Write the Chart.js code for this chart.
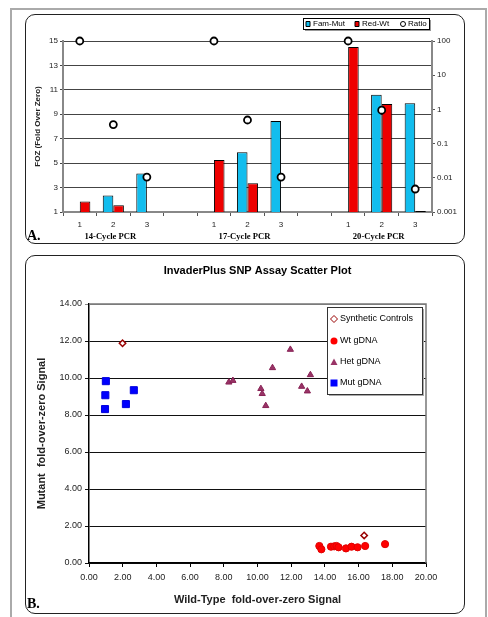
<!DOCTYPE html>
<html>
<head>
<meta charset="utf-8">
<script src="https://cdn.jsdelivr.net/npm/chart.js@4"></script>
<style>
body{margin:0;background:#fff;width:488px;height:617px;overflow:hidden;position:relative}
.outer{position:absolute;left:10px;top:8px;width:473px;height:640px;border:2px solid #aaa;border-bottom:none}
.panel{position:absolute;left:25px;width:438px;border:1.5px solid #222;border-radius:10px;background:#fff}
#pa{top:14px;height:228px}
#pb{top:255px;height:357px}
canvas{position:absolute}
#ca{left:25px;top:14px}
#cb{left:25px;top:256px}
</style>
</head>
<body>
<div class="outer"></div>
<div class="panel" id="pa"></div>
<div class="panel" id="pb"></div>
<canvas id="ca" width="440" height="230"></canvas>
<canvas id="cb" width="440" height="358"></canvas>
<script>
// panel A: FOZ by PCR cycle
let cycleLabels = ["1","2","3","","1","2","3","","1","2","3"]
let groupNames = ["14-Cycle PCR","17-Cycle PCR","20-Cycle PCR"]
let groupIndex = [1,5,9]
let famMut = [null,2.35,4.15,null,null,5.9,8.45,null,null,10.6,9.9]
let redWt = [1.85,1.55,null,null,5.25,3.35,null,null,14.5,9.85,1.08]
let ratio = [100,0.36,0.0105,null,100,0.49,0.0105,null,100,0.95,0.0047]
let leftTicks = [1,3,5,7,9,11,13,15]
let rightTicks = [0.001,0.01,0.1,1,10,100]

// panel B: scatter
let titleB = "InvaderPlus SNP Assay Scatter Plot"
let synX = [1.99,16.33]
let synY = [11.88,1.49]
let wtX = [13.67,13.79,14.36,14.55,14.69,14.81,15.25,15.58,15.94,16.39,17.57]
let wtY = [0.92,0.74,0.88,0.9,0.92,0.85,0.79,0.88,0.85,0.92,1.02]
let hetX = [8.30,8.54,11.95,10.89,13.14,10.20,10.28,12.62,12.96,10.49]
let hetY = [9.77,9.86,11.54,10.55,10.17,9.42,9.15,9.54,9.29,8.50]
let mutX = [1.0,0.97,0.95,2.19,2.66]
let mutY = [9.83,9.07,8.32,8.59,9.34]

Chart.defaults.font.family = 'Arial, "Liberation Sans", sans-serif'
Chart.defaults.color = '#222'
Chart.defaults.animation = false

function pts(xs, ys){
return xs.map((x,i)=>({x:x,y:ys[i]}))
}

function marker(c, style, x, y, fill, stroke){
c.fillStyle = fill
c.strokeStyle = stroke
c.lineWidth = 1
c.beginPath()
if(style=="rect"){ c.rect(x-3.5,y-3.5,7,7) }
if(style=="bar"){ c.rect(x-2,y-2.5,4,5) }
if(style=="circle"){ c.arc(x,y,3.5,0,Math.PI*2) }
if(style=="small"){ c.arc(x,y,2.5,0,Math.PI*2) }
if(style=="triangle"){ c.moveTo(x,y-3.5); c.lineTo(x+3.5,y+3); c.lineTo(x-3.5,y+3); c.closePath() }
if(style=="rectRot"){ c.moveTo(x,y-3.5); c.lineTo(x+3.5,y); c.lineTo(x,y+3.5); c.lineTo(x-3.5,y); c.closePath() }
c.fill()
if(stroke) c.stroke()
}

let textsA = {
id:"textsA",
afterDraw(chart){
let c = chart.ctx
c.save()
c.fillStyle = "#000"
c.font = 'bold 8.6px "Liberation Serif", "Times New Roman", serif'
c.textAlign = "center"
c.textBaseline = "middle"
groupNames.forEach((g,i)=>{
c.fillText(g, chart.scales.x.getPixelForValue(groupIndex[i]) - 3, 223)
})
c.font = 'bold 14px "Liberation Serif", "Times New Roman", serif'
c.textAlign = "left"
c.textBaseline = "alphabetic"
c.fillText("A.", 2, 226)
// legend
c.fillStyle = "#999"
c.fillRect(280,6,126,11)
c.fillStyle = "#fff"
c.fillRect(278,4,126,11)
c.strokeStyle = "#000"
c.lineWidth = 1
c.strokeRect(278.5,4.5,126,11)
let xs = [283,332,378]
let ds = chart.data.datasets
c.font = "8px Arial, 'Liberation Sans', sans-serif"
c.textBaseline = "middle"
ds.forEach((d,i)=>{
if(d.type=="line") marker(c,"small",xs[i],10,"#fff","#000")
else marker(c,"bar",xs[i],10,d.backgroundColor,"#000")
c.fillStyle = "#000"
c.fillText(d.label, xs[i]+5, 10)
})
c.restore()
}
}

new Chart(document.getElementById("ca"),{
type:"bar",
data:{
labels:cycleLabels,
datasets:[
{label:"Fam-Mut",data:famMut,backgroundColor:"#12BDEE",borderColor:"#000",borderWidth:1,yAxisID:"y",order:2},
{label:"Red-Wt",data:redWt,backgroundColor:"#EE0000",borderColor:"#000",borderWidth:1,yAxisID:"y",order:2},
{type:"line",label:"Ratio",data:ratio,yAxisID:"yR",showLine:false,pointRadius:3.5,pointBackgroundColor:"#fff",pointBorderColor:"#000",pointBorderWidth:1.8,clip:false,order:0}
]
},
options:{
responsive:false,
layout:{padding:{top:27,left:0,right:0,bottom:0}},
plugins:{legend:{display:false},tooltip:{enabled:false}},
datasets:{bar:{barPercentage:1,categoryPercentage:0.63}},
scales:{
x:{
ticks:{font:{size:8},maxRotation:0,autoSkip:false,padding:4},
grid:{display:true,drawOnChartArea:false,offset:true,tickLength:4,color:"#555"},
border:{color:"#888",width:2},
afterFit:s=>{s.height=32}
},
y:{
min:1,max:15,
afterBuildTicks:s=>{s.ticks=leftTicks.map(v=>({value:v}))},
ticks:{font:{size:8},padding:2},
grid:{color:"#444",tickLength:3},
border:{color:"#888",width:2},
title:{display:true,text:"FOZ (Fold Over Zero)",font:{size:8,weight:"bold"},padding:{top:8.2}},
afterFit:s=>{s.width=38}
},
yR:{
type:"logarithmic",position:"right",min:0.001,max:100,
afterBuildTicks:s=>{s.ticks=rightTicks.map(v=>({value:v}))},
ticks:{font:{size:8},padding:2,callback:v=>String(v)},
grid:{drawOnChartArea:false,tickLength:3,color:"#555"},
border:{color:"#888",width:2},
afterFit:s=>{s.width=33}
}
}
},
plugins:[textsA]
})

let textsB = {
id:"textsB",
beforeDatasetsDraw(chart){
let c = chart.ctx, a = chart.chartArea
c.save()
c.strokeStyle = "#777"
c.lineWidth = 1.5
c.beginPath()
c.moveTo(a.left,a.top)
c.lineTo(a.right,a.top)
c.lineTo(a.right,a.bottom)
c.stroke()
c.restore()
},
afterDraw(chart){
let c = chart.ctx, a = chart.chartArea
c.save()
c.fillStyle = "#000"
c.font = "bold 11px Arial, 'Liberation Sans', sans-serif"
c.textAlign = "center"
c.textBaseline = "middle"
c.fillText(titleB, (a.left+a.right)/2, 15)
c.font = 'bold 14px "Liberation Serif", "Times New Roman", serif'
c.textAlign = "left"
c.textBaseline = "alphabetic"
c.fillText("B.", 2, 352)
// legend
c.fillStyle = "#aaa"
c.fillRect(304,53,95,87)
c.fillStyle = "#fff"
c.fillRect(302,51,95,87)
c.strokeStyle = "#333"
c.lineWidth = 1
c.strokeRect(302.5,51.5,95,87)
c.font = "9px Arial, 'Liberation Sans', sans-serif"
c.textBaseline = "middle"
let ys = [63,85,106,127]
chart.data.datasets.forEach((d,i)=>{
marker(c,d.pointStyle,309,ys[i],d.backgroundColor,d.pointStyle=="rectRot"?d.borderColor:null)
c.fillStyle = "#000"
c.fillText(d.label,315,ys[i])
})
c.restore()
}
}

new Chart(document.getElementById("cb"),{
type:"scatter",
data:{
datasets:[
{label:"Synthetic Controls",data:pts(synX,synY),pointStyle:"rectRot",pointRadius:3.2,backgroundColor:"#fff",borderColor:"#990000",borderWidth:1.5},
{label:"Wt gDNA",data:pts(wtX,wtY),pointStyle:"circle",pointRadius:3.6,backgroundColor:"#FF0000",borderColor:"#E00000",borderWidth:1},
{label:"Het gDNA",data:pts(hetX,hetY),pointStyle:"triangle",pointRadius:3.6,backgroundColor:"#993366",borderColor:"#882255",borderWidth:1},
{label:"Mut gDNA",data:pts(mutX,mutY),pointStyle:"rect",pointRadius:5,backgroundColor:"#0000FF",borderColor:"#0000DD",borderWidth:1}
]
},
options:{
responsive:false,
layout:{padding:{top:48,right:39,left:0,bottom:0}},
plugins:{legend:{display:false},tooltip:{enabled:false}},
scales:{
x:{
min:0,max:20,
ticks:{stepSize:2,font:{size:9},padding:5,callback:v=>v.toFixed(2)},
grid:{drawOnChartArea:false,tickLength:4,color:"#000"},
border:{color:"#000",width:1.5},
title:{display:true,text:"Wild-Type  fold-over-zero Signal",font:{size:11,weight:"bold"},padding:{bottom:7.4}},
afterFit:s=>{s.height=51}
},
y:{
min:0,max:14,
ticks:{stepSize:2,font:{size:9},padding:3,callback:v=>v.toFixed(2)},
grid:{color:ctx=>ctx.tick&&ctx.tick.value==14?"#888":"#111",tickLength:4},
border:{color:"#000",width:1.5},
title:{display:true,text:"Mutant  fold-over-zero Signal",font:{size:11,weight:"bold"},padding:{top:10.4}},
afterFit:s=>{s.width=64}
}
}
},
plugins:[textsB]
})
</script>
</body>
</html>
